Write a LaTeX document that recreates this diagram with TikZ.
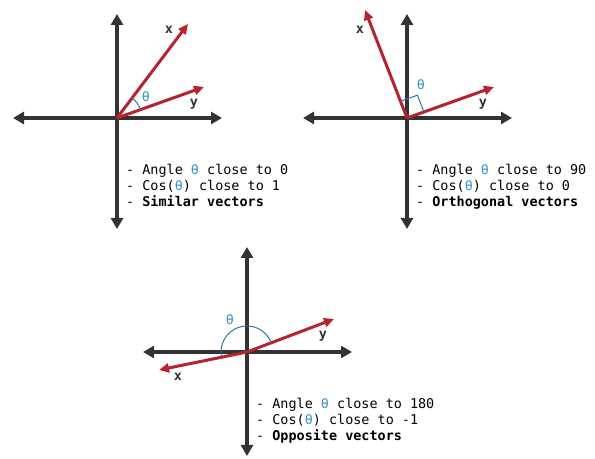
\documentclass[tikz,border=0pt]{standalone}
\usepackage{fontspec}
\setmonofont{DejaVu Sans Mono}
\usetikzlibrary{arrows.meta, positioning, calc}
\definecolor{cAxis}{RGB}{51,51,51}
\definecolor{cVec}{RGB}{181,35,47}
\definecolor{cTheta}{RGB}{59,154,196}
\definecolor{cArc}{RGB}{46,120,150}
\tikzset{
	axis/.style     ={line width=3.5bp, cAxis, {Triangle[length=11bp,width=12bp]}-{Triangle[length=11bp,width=12bp]}},
	vec/.style      ={line width=3bp, cVec, -{Triangle[length=10bp,width=9bp]}},
	anglemark/.style={cArc, line width=1bp},
	vlabel/.style   ={font=\ttfamily\bfseries\fontsize{13.5}{15}\selectfont, text=cAxis, inner sep=1bp},
	thlabel/.style  ={font=\ttfamily\fontsize{13.5}{15}\selectfont, text=cTheta, inner sep=1bp},
	notes/.style    ={font=\ttfamily\fontsize{13.5}{16}\selectfont, align=left, anchor=north west, inner sep=0pt},
}
\newcommand{\thchar}{\textcolor{cTheta}{θ}}

\begin{document}
\begin{tikzpicture}[x=1bp, y=1bp]
	\useasboundingbox (0,0) rectangle (595,459);
	% panel one: similar vectors
	\begin{scope}[shift={(117,341)}]
		\coordinate (o1) at (0,0);
		\coordinate (l1) at (-104,0);
		\coordinate (r1) at (105,0);
		\coordinate (t1) at (0,104);
		\coordinate (b1) at (0,-111);
		\coordinate (x1) at (71,94);
		\coordinate (y1) at (87,31);
		\draw[axis] (l1) -- (r1);
		\draw[axis] (t1) -- (b1);
		\draw[vec] (o1) -- (x1);
		\draw[vec] (o1) -- (y1);
		\draw[anglemark] ($(o1)+(19.6:25)$) arc[start angle=19.6, end angle=53, radius=25];
		\node[thlabel] (th1) at (29,21) {θ};
		\node[vlabel] (xl1) at (52,88) {x};
		\node[vlabel] (yl1) at (77,14) {y};
		\node[notes] (n1) at (9,-46) {- Angle \thchar{} close to 0\\- Cos(\thchar) close to 1\\- \textbf{Similar vectors}};
	\end{scope}
	% panel two: orthogonal vectors
	\begin{scope}[shift={(407,341)}]
		\coordinate (o2) at (0,0);
		\coordinate (l2) at (-104,0);
		\coordinate (r2) at (105,0);
		\coordinate (t2) at (0,104);
		\coordinate (b2) at (0,-111);
		\coordinate (x2) at (-42,108);
		\coordinate (y2) at (87,31);
		\draw[axis] (l2) -- (r2);
		\draw[axis] (t2) -- (b2);
		\draw[vec] (o2) -- (x2);
		\draw[vec] (o2) -- (y2);
		\draw[anglemark] ($(o2)+(111.3:18)$) -- ++(19.6:18) -- ($(o2)+(19.6:18)$);
		\node[thlabel] (th2) at (14,33) {θ};
		\node[vlabel] (xl2) at (-47,88) {x};
		\node[vlabel] (yl2) at (76,14) {y};
		\node[notes] (n2) at (9,-46) {- Angle \thchar{} close to 90\\- Cos(\thchar) close to 0\\- \textbf{Orthogonal vectors}};
	\end{scope}
	% panel three: opposite vectors
	\begin{scope}[shift={(247,107)}]
		\coordinate (o3) at (0,0);
		\coordinate (l3) at (-104,0);
		\coordinate (r3) at (105,0);
		\coordinate (t3) at (0,105);
		\coordinate (b3) at (0,-104);
		\coordinate (x3) at (-88,-18);
		\coordinate (y3) at (87,33);
		\draw[axis] (l3) -- (r3);
		\draw[axis] (t3) -- (b3);
		\draw[vec] (o3) -- (x3);
		\draw[vec] (o3) -- (y3);
		\draw[anglemark] ($(o3)+(21:26)$) arc[start angle=21, end angle=191, radius=26];
		\node[thlabel] (th3) at (-17,32) {θ};
		\node[vlabel] (xl3) at (-69,-25) {x};
		\node[vlabel] (yl3) at (76,16) {y};
		\node[notes] (n3) at (9,-46) {- Angle \thchar{} close to 180\\- Cos(\thchar) close to -1\\- \textbf{Opposite vectors}};
	\end{scope}
\end{tikzpicture}
\end{document}
